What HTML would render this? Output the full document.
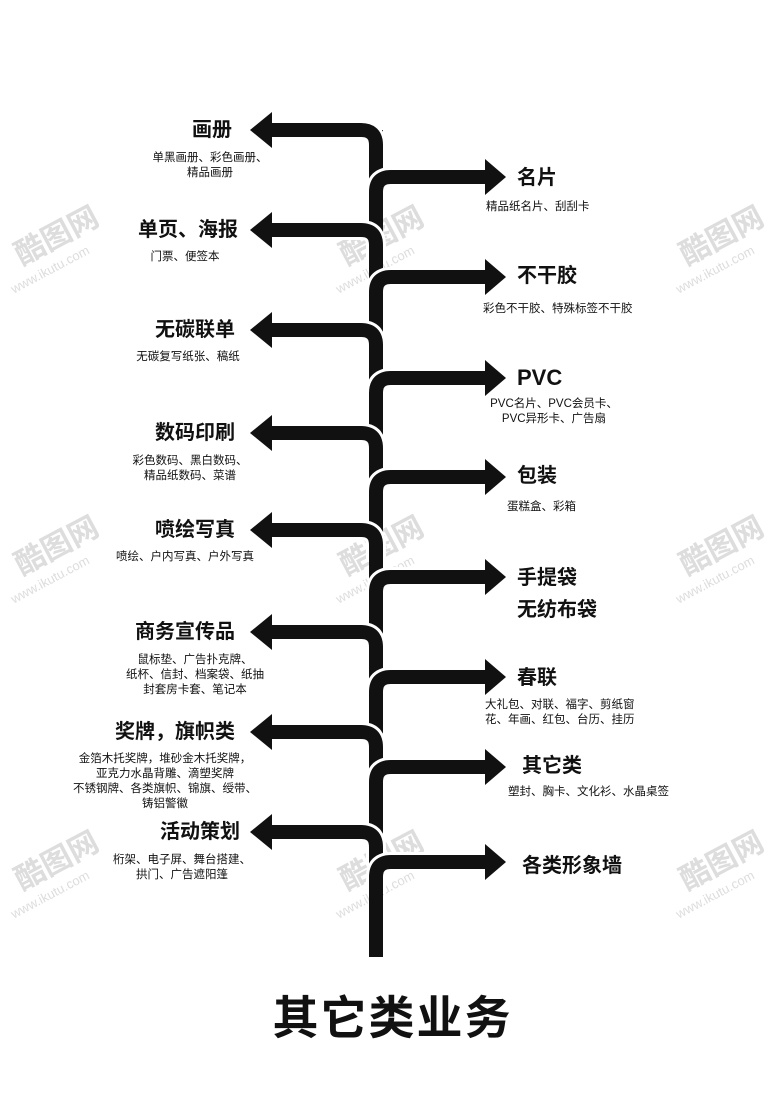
<!DOCTYPE html>
<html><head><meta charset="utf-8"><style>
body{margin:0;width:777px;height:1116px;background:#fff;position:relative;overflow:hidden;font-family:"Liberation Sans","Noto Sans CJK SC",sans-serif;color:#111}
.t{position:absolute;font-weight:bold;font-size:20px;line-height:24px;white-space:nowrap}
.s{position:absolute;font-size:11.5px;line-height:15px;white-space:nowrap}
.c{transform:translateX(-50%);text-align:center}
.wm{position:absolute;color:#ddd;font-size:13px;transform:rotate(-28deg);white-space:nowrap}
.wm b{font-size:30px;color:#ddd;display:block;margin-left:20px}
</style></head><body>
<div class="wm" style="left:-5px;top:215px"><b>酷图网</b>www.ikutu.com</div>
<div class="wm" style="left:320px;top:215px"><b>酷图网</b>www.ikutu.com</div>
<div class="wm" style="left:660px;top:215px"><b>酷图网</b>www.ikutu.com</div>
<div class="wm" style="left:-5px;top:525px"><b>酷图网</b>www.ikutu.com</div>
<div class="wm" style="left:320px;top:525px"><b>酷图网</b>www.ikutu.com</div>
<div class="wm" style="left:660px;top:525px"><b>酷图网</b>www.ikutu.com</div>
<div class="wm" style="left:-5px;top:840px"><b>酷图网</b>www.ikutu.com</div>
<div class="wm" style="left:320px;top:840px"><b>酷图网</b>www.ikutu.com</div>
<div class="wm" style="left:660px;top:840px"><b>酷图网</b>www.ikutu.com</div>
<svg width="777" height="1116" style="position:absolute;left:0;top:0">
<line x1="376" y1="130" x2="376" y2="957" stroke="#111" stroke-width="14"/>
<g id="arrows"></g>
</svg>
<script>
var g=document.getElementById('arrows'),h='';
var L=[130,230,330,433,530,632,732,832],R=[177,277,378,477,577,677,767,862];
var all=[];L.forEach(function(c){all.push([c,0])});R.forEach(function(c){all.push([c,1])});
all.sort(function(a,b){return a[0]-b[0]});
all.forEach(function(a){var c=a[0],p,hd;
if(!a[1]){p='M268 '+c+' H361 Q376 '+c+' 376 '+(c+15)+' V'+(c+32);hd='250,'+c+' 272,'+(c-18)+' 272,'+(c+18);}
else{p='M376 '+(c+32)+' V'+(c+15)+' Q376 '+c+' 391 '+c+' H488';hd='506,'+c+' 485,'+(c-18)+' 485,'+(c+18);}
h+='<path d="'+p+'" fill="none" stroke="#fff" stroke-width="20"/><path d="'+p+'" fill="none" stroke="#111" stroke-width="14"/><polygon points="'+hd+'" fill="#111"/>';});
g.innerHTML=h;
</script>
<div class="t c" style="left:212px;top:118px">画册</div>
<div class="s c" style="left:210px;top:151px">单黑画册、彩色画册、<br>精品画册</div>
<div class="t c" style="left:188px;top:218px">单页、海报</div>
<div class="s c" style="left:185px;top:250px">门票、便签本</div>
<div class="t c" style="left:195px;top:318px">无碳联单</div>
<div class="s c" style="left:188px;top:350px">无碳复写纸张、稿纸</div>
<div class="t c" style="left:195px;top:421px">数码印刷</div>
<div class="s c" style="left:190px;top:454px">彩色数码、黑白数码、<br>精品纸数码、菜谱</div>
<div class="t c" style="left:195px;top:518px">喷绘写真</div>
<div class="s c" style="left:185px;top:550px">喷绘、户内写真、户外写真</div>
<div class="t c" style="left:185px;top:620px">商务宣传品</div>
<div class="s c" style="left:195px;top:653px">鼠标垫、广告扑克牌、<br>纸杯、信封、档案袋、纸抽<br>封套房卡套、笔记本</div>
<div class="t c" style="left:175px;top:720px">奖牌，旗帜类</div>
<div class="s c" style="left:165px;top:752px">金箔木托奖牌，堆砂金木托奖牌，<br>亚克力水晶背雕、滴塑奖牌<br>不锈钢牌、各类旗帜、锦旗、绶带、<br>铸铝警徽</div>
<div class="t c" style="left:200px;top:820px">活动策划</div>
<div class="s c" style="left:182px;top:853px">桁架、电子屏、舞台搭建、<br>拱门、广告遮阳篷</div>
<div class="t" style="left:517px;top:166px">名片</div>
<div class="s" style="left:486px;top:200px">精品纸名片、刮刮卡</div>
<div class="t" style="left:517px;top:264px">不干胶</div>
<div class="s" style="left:483px;top:302px">彩色不干胶、特殊标签不干胶</div>
<div class="t" style="left:517px;top:366px;font-size:22px">PVC</div>
<div class="s c" style="left:554px;top:397px">PVC名片、PVC会员卡、<br>PVC异形卡、广告扇</div>
<div class="t" style="left:517px;top:464px">包装</div>
<div class="s" style="left:507px;top:500px">蛋糕盒、彩箱</div>
<div class="t" style="left:517px;top:566px">手提袋</div>
<div class="t" style="left:517px;top:598px">无纺布袋</div>
<div class="t" style="left:517px;top:666px">春联</div>
<div class="s" style="left:485px;top:698px">大礼包、对联、福字、剪纸窗<br>花、年画、红包、台历、挂历</div>
<div class="t" style="left:522px;top:754px">其它类</div>
<div class="s" style="left:508px;top:785px">塑封、胸卡、文化衫、水晶桌签</div>
<div class="t" style="left:522px;top:854px">各类形象墙</div>
<div style="position:absolute;left:0;width:777px;top:990px;text-align:center;font-weight:bold;font-size:46px;letter-spacing:2px;line-height:56px;padding-left:4px">其它类业务</div>
</body></html>
